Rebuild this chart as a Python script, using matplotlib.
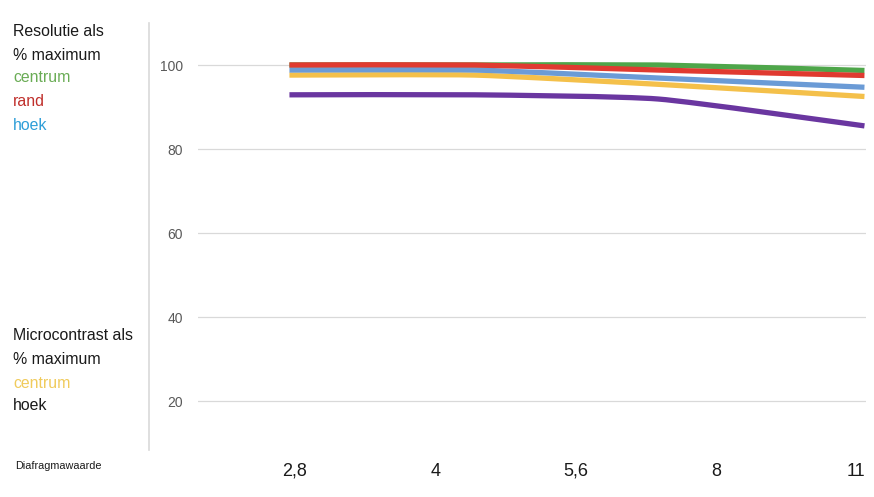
import matplotlib
matplotlib.use("Agg")
import matplotlib.pyplot as plt
from matplotlib.lines import Line2D
from matplotlib.path import Path
from matplotlib.patches import PathPatch

# ---- data ----
tick_labels = ["2,8", "4", "5,6", "8", "11"]
tick_pos = [0, 1, 2, 3, 4]
line_x = [-0.04, 1.28, 2.59, 4.06]
res_centrum = [100.0, 100.0, 100.0, 98.7]
res_rand = [100.0, 100.0, 98.8, 97.5]
res_hoek = [98.8, 98.8, 96.9, 94.7]
mc_centrum = [97.6, 97.6, 95.4, 92.5]
mc_hoek = [92.9, 92.9, 91.9, 85.5]
y_ticks = [20, 40, 60, 80, 100]

W, H = 874, 497
fig = plt.figure(figsize=(W / 100, H / 100), dpi=100)
fig.patch.set_facecolor("white")

def fx(px):
    return px / W

def fy(py):
    return 1 - py / H

ax_l, ax_r, ax_t, ax_b = 198, 866, 23, 450
ax = fig.add_axes([fx(ax_l), fy(ax_b), fx(ax_r - ax_l), (ax_b - ax_t) / H])
ax.set_xlim(-0.692, 4.071)
ax.set_ylim(100 - (ax_b - 65) / 4.2, 100 + (65 - ax_t) / 4.2)

for s in ax.spines.values():
    s.set_visible(False)
ax.set_yticks(y_ticks)
ax.set_yticklabels([str(v) for v in y_ticks], fontsize=10, color="#595959",
                   family=["Liberation Sans", "DejaVu Sans"])
ax.tick_params(axis="y", length=0, pad=11)
ax.grid(axis="y", color="#d9d9d9", linewidth=0.9)
ax.set_axisbelow(True)
ax.set_xticks(tick_pos)
ax.set_xticklabels(tick_labels, fontsize=13, color="#1a1a1a",
                   family=["Liberation Sans", "DejaVu Sans"])
ax.tick_params(axis="x", length=0, pad=9)


def smooth_path(xs, ys, k=0.09):
    # Catmull-Rom style cubic Bezier through the data points (like a smoothed line)
    verts = [(xs[0], ys[0])]
    codes = [Path.MOVETO]
    n = len(xs)
    for i in range(n - 1):
        x0, y0 = (xs[i - 1], ys[i - 1]) if i > 0 else (xs[i], ys[i])
        x1, y1 = xs[i], ys[i]
        x2, y2 = xs[i + 1], ys[i + 1]
        x3, y3 = (xs[i + 2], ys[i + 2]) if i + 2 < n else (xs[i + 1], ys[i + 1])
        c1 = (x1 + (x2 - x0) * k, y1 + (y2 - y0) * k)
        c2 = (x2 - (x3 - x1) * k, y2 - (y3 - y1) * k)
        verts += [c1, c2, (x2, y2)]
        codes += [Path.CURVE4, Path.CURVE4, Path.CURVE4]
    return Path(verts, codes)


lw = 3.8
series = [
    (res_centrum, "#4ea64a"),
    (mc_centrum, "#f4c04a"),
    (res_hoek, "#6b9bd6"),
    (res_rand, "#e03a30"),
    (mc_hoek, "#6a36a0"),
]
for i, (vals, col) in enumerate(series):
    p = PathPatch(smooth_path(line_x, vals), facecolor="none", edgecolor=col,
                  linewidth=lw, capstyle="butt", joinstyle="round",
                  clip_on=False, zorder=3 + i)
    ax.add_patch(p)

fig.add_artist(Line2D([fx(149), fx(149)], [fy(23), fy(450)], color="#d9d9d9", linewidth=1.2))

tf = ["Liberation Sans", "DejaVu Sans"]
fs = 11.4
left_texts = [
    (32, "Resolutie als", "#1a1a1a"),
    (55, "% maximum", "#1a1a1a"),
    (78, "centrum", "#6aac55"),
    (101, "rand", "#c0302c"),
    (125, "hoek", "#2e9ed8"),
    (336, "Microcontrast als", "#1a1a1a"),
    (359, "% maximum", "#1a1a1a"),
    (383, "centrum", "#f0cb5c"),
    (406, "hoek", "#1a1a1a"),
]
for py, txt, col in left_texts:
    fig.text(fx(13), fy(py), txt, fontsize=fs, color=col, family=tf,
             ha="left", va="center")

fig.text(fx(15), fy(466), "Diafragmawaarde", fontsize=7.8, color="#1a1a1a",
         family=tf, ha="left", va="center")

fig.savefig("out.png", dpi=100, facecolor="white")
